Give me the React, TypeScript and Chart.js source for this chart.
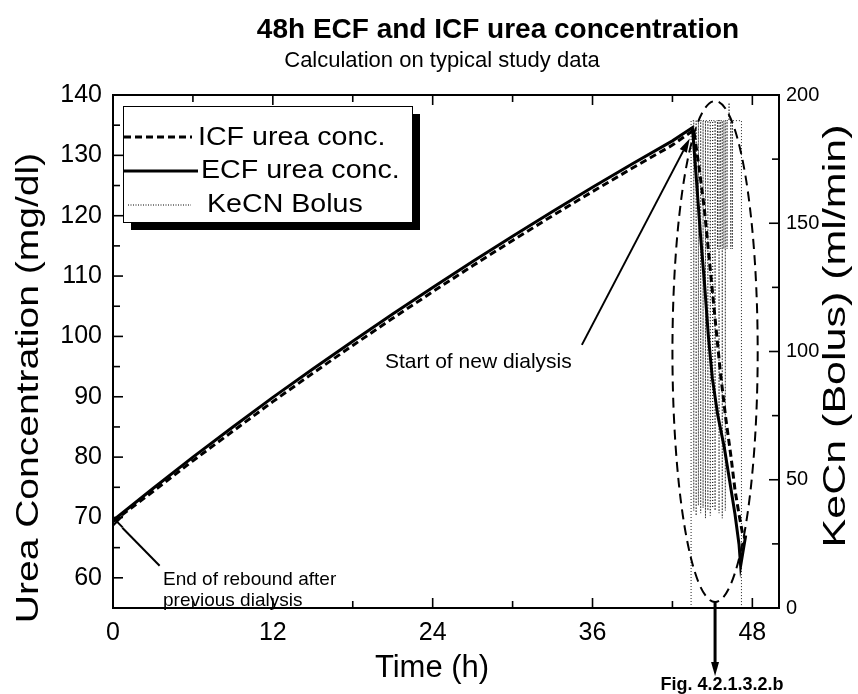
import React, { useEffect, useRef } from 'react';
import { Chart, registerables } from 'chart.js';

Chart.register(...registerables);

// ECF urea concentration (mg/dl): inter-dialytic rise, then the dialysis session
const ecfHours = [0, 3, 6, 9, 12, 15, 18, 21, 24, 27, 30, 33, 36, 39, 42, 43.5, 43.8, 44.1, 44.4, 44.7, 45.0, 45.4, 45.9, 46.3, 46.7, 47.0, 47.12, 47.5];
const ecfConc = [69.5, 74.8, 80.0, 85.0, 89.9, 94.6, 99.2, 103.7, 108.1, 112.4, 116.6, 120.7, 124.7, 128.6, 132.4, 134.6, 126, 117, 109, 100, 93, 87, 81.5, 76, 70.5, 65.5, 62, 67];

// ICF urea concentration (mg/dl)
const icfHours = [0, 3, 6, 9, 12, 15, 18, 21, 24, 27, 30, 33, 36, 39, 42, 43.6, 44.0, 44.4, 44.8, 45.2, 45.6, 46.0, 46.4, 46.7, 47.0, 47.25, 47.45];
const icfConc = [69.3, 74.3, 79.4, 84.3, 89.2, 93.9, 98.5, 103.0, 107.4, 111.7, 115.9, 120.0, 124.0, 127.9, 131.7, 134.2, 128, 121, 112, 103, 94, 86.5, 80, 74.5, 70.5, 67.5, 66.5];

// KeCN bolus clearance (ml/min): on/off window and the short dips of each bolus
const bolusStart = 43.4;
const bolusEnd = 47.18;
const bolusTop = 190;
const spikeHours = [43.6, 43.78, 43.95, 44.12, 44.3, 44.48, 44.66, 44.84, 45.02, 45.2, 45.38, 45.5, 45.62, 45.74, 45.86, 45.97, 46.1, 46.25, 46.38, 46.5];
const spikeLows = [38, 36, 40, 37, 39, 35, 38, 36, 39, 38, 140, 37, 140, 35, 140, 38, 140, 197, 140, 140];

// End-of-rebound marker
const markerHours = [0.3];
const markerConc = [69.3];

// Axis ticks
const xMajor = [0, 12, 24, 36, 48];
const xMinor = [6, 18, 30, 42];
const yMajor = [60, 70, 80, 90, 100, 110, 120, 130, 140];
const yMinor = [55, 65, 75, 85, 95, 105, 115, 125, 135];
const y1Major = [0, 50, 100, 150, 200];
const y1Minor = [25, 75, 125, 175];

const FONT = '"Liberation Sans", Arial, Helvetica, sans-serif';

function pts(xs: number[], ys: number[]) {
  return xs.map((x, i) => ({ x, y: ys[i] }));
}

function bolusPath() {
  const d: { x: number; y: number }[] = [{ x: bolusStart, y: 0 }, { x: bolusStart, y: bolusTop }];
  spikeHours.forEach((h, i) => {
    d.push({ x: h, y: bolusTop }, { x: h, y: spikeLows[i] }, { x: h, y: bolusTop });
  });
  d.push({ x: bolusEnd, y: bolusTop }, { x: bolusEnd, y: 0 });
  return d;
}

type TextOpt = { bold?: boolean; align?: CanvasTextAlign; base?: CanvasTextBaseline; kx?: number; rot?: boolean };

function text(ctx: CanvasRenderingContext2D, s: string, x: number, y: number, size: number, o: TextOpt = {}) {
  ctx.save();
  ctx.translate(x, y);
  ctx.scale(o.kx ?? 1, 1);
  if (o.rot) ctx.rotate(-Math.PI / 2);
  ctx.font = `${o.bold ? 'bold ' : ''}${size}px ${FONT}`;
  ctx.textAlign = o.align ?? 'left';
  ctx.textBaseline = o.base ?? 'middle';
  ctx.fillStyle = '#000';
  ctx.fillText(s, 0, 0);
  ctx.restore();
}

function seg(ctx: CanvasRenderingContext2D, x1: number, y1: number, x2: number, y2: number) {
  ctx.beginPath();
  ctx.moveTo(x1, y1);
  ctx.lineTo(x2, y2);
  ctx.stroke();
}

function arrow(ctx: CanvasRenderingContext2D, x1: number, y1: number, x2: number, y2: number, w: number, headLen: number, headW: number) {
  const a = Math.atan2(y2 - y1, x2 - x1);
  const bx = x2 - headLen * Math.cos(a);
  const by = y2 - headLen * Math.sin(a);
  ctx.lineWidth = w;
  seg(ctx, x1, y1, bx, by);
  ctx.beginPath();
  ctx.moveTo(x2, y2);
  ctx.lineTo(bx + headW * Math.sin(a), by - headW * Math.cos(a));
  ctx.lineTo(bx - headW * Math.sin(a), by + headW * Math.cos(a));
  ctx.closePath();
  ctx.fill();
}

const decor = {
  id: 'decor',
  afterDraw(chart: any) {
    const ctx: CanvasRenderingContext2D = chart.ctx;
    const xs = chart.scales.x;
    const ys = chart.scales.y;
    const y1 = chart.scales.y1;
    const { left, right, top, bottom } = chart.chartArea;
    ctx.save();
    ctx.strokeStyle = '#000';
    ctx.fillStyle = '#000';
    ctx.setLineDash([]);

    // frame
    ctx.lineWidth = 2;
    ctx.strokeRect(left, top, right - left, bottom - top);

    // inward ticks
    ctx.lineWidth = 1.6;
    const xt = (v: number, len: number) => {
      const p = xs.getPixelForValue(v);
      seg(ctx, p, bottom, p, bottom - len);
      seg(ctx, p, top, p, top + len);
    };
    xMajor.forEach((v) => xt(v, 10));
    xMinor.forEach((v) => xt(v, 7));
    yMajor.forEach((v) => { const p = ys.getPixelForValue(v); seg(ctx, left, p, left + 10, p); });
    yMinor.forEach((v) => { const p = ys.getPixelForValue(v); seg(ctx, left, p, left + 7, p); });
    y1Major.forEach((v) => { const p = y1.getPixelForValue(v); seg(ctx, right, p, right - 10, p); });
    y1Minor.forEach((v) => { const p = y1.getPixelForValue(v); seg(ctx, right, p, right - 7, p); });

    // tick labels
    xMajor.forEach((v) => text(ctx, String(v), xs.getPixelForValue(v), bottom + 25, 25, { align: 'center' }));
    yMajor.forEach((v) => text(ctx, String(v), left - 11, ys.getPixelForValue(v), 25, { align: 'right' }));
    y1Major.forEach((v) => text(ctx, String(v), right + 7, y1.getPixelForValue(v), 20, { align: 'left' }));

    // titles
    text(ctx, '48h ECF and ICF urea concentration', 498, 30, 28, { bold: true, align: 'center' });
    text(ctx, 'Calculation on typical study data', 442, 61, 22, { align: 'center' });
    text(ctx, 'Time (h)', 432, 668, 31, { align: 'center' });
    text(ctx, 'Urea Concentration (mg/dl)', 30, 388, 39, { align: 'center', rot: true, kx: 0.78 });
    text(ctx, 'KeCn (Bolus) (ml/min)', 836, 336, 43, { align: 'center', rot: true, kx: 0.75 });

    // legend box with drop shadow
    const lx = 123, ly = 106, lw = 289, lh = 116;
    ctx.fillRect(lx + 8, ly + 8, lw, lh);
    ctx.fillStyle = '#fff';
    ctx.fillRect(lx, ly, lw, lh);
    ctx.fillStyle = '#000';
    ctx.lineWidth = 1;
    ctx.strokeRect(lx + 0.5, ly + 0.5, lw, lh);
    ctx.lineWidth = 3;
    ctx.setLineDash([7, 4]);
    seg(ctx, lx + 1, 137, lx + 69, 137);
    ctx.setLineDash([]);
    seg(ctx, lx + 1, 171, lx + 75, 171);
    ctx.lineWidth = 1;
    ctx.setLineDash([1, 1.5]);
    seg(ctx, lx + 5, 205, lx + 68, 205);
    ctx.setLineDash([]);
    text(ctx, 'ICF urea conc.', 198, 138, 26, { kx: 1.1 });
    text(ctx, 'ECF urea conc.', 201, 171, 26, { kx: 1.1 });
    text(ctx, 'KeCN Bolus', 207, 205, 26, { kx: 1.1 });

    // dialysis window ellipse
    const cx = xs.getPixelForValue(45.2);
    const cy = ys.getPixelForValue(97.5);
    const rx = xs.getPixelForValue(45.2 + 3.2) - cx;
    const ry = cy - ys.getPixelForValue(97.5 + 41.5);
    ctx.lineWidth = 2;
    ctx.setLineDash([10, 6]);
    ctx.beginPath();
    ctx.ellipse(cx, cy, rx, ry, 0, 0, Math.PI * 2);
    ctx.stroke();
    ctx.setLineDash([]);

    // annotations
    arrow(ctx, xs.getPixelForValue(35.2), ys.getPixelForValue(98.6), xs.getPixelForValue(43.3), ys.getPixelForValue(132.8), 2, 14, 4);
    text(ctx, 'Start of new dialysis', 385, 362, 21);
    ctx.lineWidth = 2;
    seg(ctx, xs.getPixelForValue(0.7), ys.getPixelForValue(68.3), xs.getPixelForValue(3.5), ys.getPixelForValue(62.0));
    text(ctx, 'End of rebound after', 163, 580, 19);
    text(ctx, 'previous dialysis', 163, 601, 19);
    arrow(ctx, cx, cy + ry, cx, 676, 3, 14, 4);
    text(ctx, 'Fig. 4.2.1.3.2.b', 722, 685, 18, { bold: true, align: 'center' });

    ctx.restore();
  },
};

export default function App() {
  const ref = useRef<HTMLCanvasElement>(null);

  useEffect(() => {
    document.body.style.margin = '0';
    const canvas = ref.current;
    if (!canvas) return;
    const chart = new Chart(canvas, {
      type: 'line',
      data: {
        datasets: [
          {
            label: 'ICF urea conc.',
            data: pts(icfHours, icfConc),
            borderColor: '#000',
            borderWidth: 3,
            borderDash: [7, 4],
            pointRadius: 0,
            yAxisID: 'y',
          },
          {
            label: 'ECF urea conc.',
            data: pts(ecfHours, ecfConc),
            borderColor: '#000',
            borderWidth: 3,
            pointRadius: 0,
            yAxisID: 'y',
          },
          {
            label: 'KeCN Bolus',
            data: bolusPath(),
            borderColor: '#222',
            borderWidth: 1,
            borderDash: [1, 2],
            pointRadius: 0,
            yAxisID: 'y1',
          },
          {
            label: 'End of rebound',
            data: pts(markerHours, markerConc),
            showLine: false,
            pointStyle: 'crossRot',
            pointRadius: 8,
            borderWidth: 2,
            borderColor: '#000',
            yAxisID: 'y',
          },
        ],
      },
      options: {
        responsive: false,
        animation: false,
        devicePixelRatio: 1,
        layout: { padding: { top: 95, left: 0, right: 0, bottom: 0 } },
        plugins: { legend: { display: false }, tooltip: { enabled: false }, title: { display: false } },
        elements: { line: { tension: 0 } },
        scales: {
          x: {
            type: 'linear',
            min: 0,
            max: 50,
            ticks: { display: false },
            grid: { display: false },
            border: { display: false },
            afterFit: (s: any) => { s.height = 86; },
          },
          y: {
            position: 'left',
            min: 55,
            max: 140,
            ticks: { display: false },
            grid: { display: false },
            border: { display: false },
            afterFit: (s: any) => { s.width = 113; },
          },
          y1: {
            position: 'right',
            min: 0,
            max: 200,
            ticks: { display: false },
            grid: { display: false },
            border: { display: false },
            afterFit: (s: any) => { s.width = 79; },
          },
        },
      },
      plugins: [decor],
    });
    return () => chart.destroy();
  }, []);

  return (
    <div style={{ width: 858, height: 694, background: '#fff' }}>
      <canvas ref={ref} width={858} height={694} style={{ display: 'block' }} />
    </div>
  );
}
